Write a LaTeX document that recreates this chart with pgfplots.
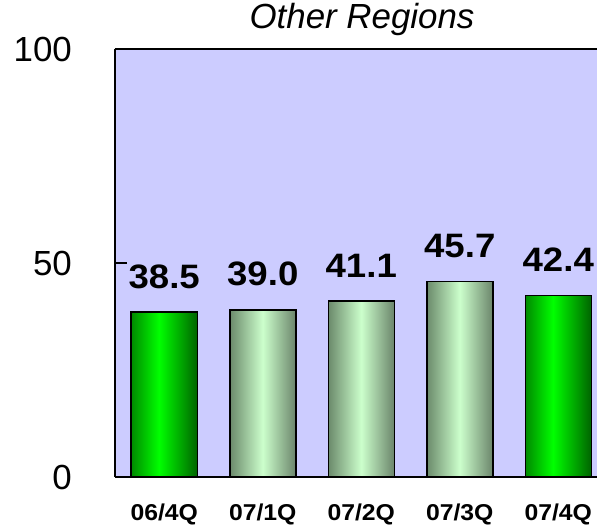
\documentclass[border=0pt]{standalone}
\usepackage{pgfplots}
\pgfplotsset{compat=1.18}
\usepackage{fontspec}
\setmainfont{Liberation Sans}
\newfontfamily\valfont[FakeStretch=1.08]{Liberation Sans}
\definecolor{bgc}{HTML}{CCCCFF}
\definecolor{ga}{HTML}{008A00}
\definecolor{gb}{HTML}{00FF00}
\definecolor{gc}{HTML}{006400}
\definecolor{la}{HTML}{6B8A6B}
\definecolor{lb}{HTML}{CCFFCC}
\definecolor{lc}{HTML}{6B856B}
\pgfdeclarehorizontalshading{gbar}{100bp}{color(0bp)=(ga); color(25bp)=(ga); color(46bp)=(gb); color(75bp)=(gc); color(100bp)=(gc)}
\pgfdeclarehorizontalshading{lbar}{100bp}{color(0bp)=(la); color(25bp)=(la); color(50bp)=(lb); color(75bp)=(lc); color(100bp)=(lc)}
\begin{document}
\begin{tikzpicture}
\useasboundingbox (-115bp,-48bp) rectangle (482bp,477bp);
\begin{axis}[
  at={(0,0)}, anchor=south west, scale only axis,
  width=482bp, height=428bp,
  xmin=-0.5, xmax=4.3934, ymin=0, ymax=100,
  axis x line*=box, axis y line*=left,
  axis line style={line width=2bp, black},
  axis background/.style={fill=bgc},
  ytick={0,50,100}, ytick pos=left, tick align=inside,
  major tick length=12bp,
  xtick={0,1,2,3,4}, xticklabels={06/4Q,07/1Q,07/2Q,07/3Q,07/4Q},
  xtick pos=left,
  xtick style={draw=none},
  minor xtick={0.5,1.5,2.5,3.5},
  minor tick length=8bp,
  minor x tick style={line width=1.5bp, black},
  ytick style={line width=1.5bp, black},
  /pgf/number format/assume math mode=true,
  yticklabel style={font=\fontsize{35}{35}\selectfont, anchor=east, inner sep=0pt, xshift=-43bp},
  xticklabel style={font=\valfont\bfseries\fontsize{23}{23}\selectfont, anchor=north, inner sep=0pt, yshift=-27bp},
  title={\itshape Other Regions},
  title style={font=\fontsize{35}{35}\selectfont, at={(0.5,1)}, anchor=base, inner sep=0pt, yshift=15bp, xshift=6bp},
  every node near coord/.append style={font=\valfont\bfseries\fontsize{34}{34}\selectfont, inner sep=0pt, yshift=23bp, black},
]
\addplot[ybar, bar shift=0pt, bar width=66bp, draw=black, line width=1.5bp, shading=gbar,
  point meta=explicit symbolic, nodes near coords] coordinates {(0,38.5) [38.5]};
\addplot[ybar, bar shift=0pt, bar width=66bp, draw=black, line width=1.5bp, shading=lbar,
  point meta=explicit symbolic, nodes near coords] coordinates {(1,39.0) [39.0]};
\addplot[ybar, bar shift=0pt, bar width=66bp, draw=black, line width=1.5bp, shading=lbar,
  point meta=explicit symbolic, nodes near coords] coordinates {(2,41.1) [41.1]};
\addplot[ybar, bar shift=0pt, bar width=66bp, draw=black, line width=1.5bp, shading=lbar,
  point meta=explicit symbolic, nodes near coords] coordinates {(3,45.7) [45.7]};
\addplot[ybar, bar shift=0pt, bar width=66bp, draw=black, line width=1.5bp, shading=gbar,
  point meta=explicit symbolic, nodes near coords] coordinates {(4,42.4) [42.4]};
\end{axis}
\end{tikzpicture}
\end{document}
